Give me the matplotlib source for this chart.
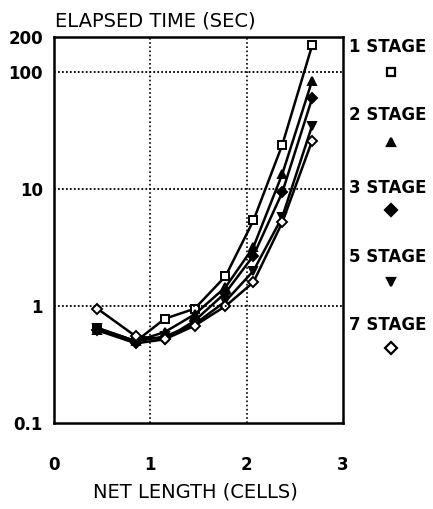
import numpy as np
import matplotlib.pyplot as plt

# net length (cells) for each measured point
net_length = [0.45, 0.85, 1.15, 1.46, 1.78, 2.07, 2.37, 2.68]

# elapsed time (sec) per pipeline depth
stage1 = [0.65, 0.50, 0.78, 0.95, 1.8, 5.4, 24.0, 170.0]
stage2 = [0.63, 0.50, 0.60, 0.85, 1.45, 3.2, 13.5, 85.0]
stage3 = [0.62, 0.48, 0.52, 0.75, 1.3, 2.7, 9.4, 60.0]
stage5 = [0.65, 0.50, 0.55, 0.70, 1.1, 2.0, 5.8, 35.0]
stage7 = [0.95, 0.55, 0.52, 0.68, 1.0, 1.6, 5.2, 26.0]

labels = ['1 STAGE', '2 STAGE', '3 STAGE', '5 STAGE', '7 STAGE']
series = [stage1, stage2, stage3, stage5, stage7]
markers = [('s', 'white'), ('^', 'black'), ('D', 'black'), ('v', 'black'), ('D', 'white')]
msizes = [5.5, 6, 5, 6, 5]

fig = plt.figure(figsize=(4.33, 5.09), dpi=100)
ax = fig.add_axes([0.125, 0.169, 0.667, 0.758])

for ys, (m, fc), ms in zip(series, markers, msizes):
    ax.plot(net_length, ys, color='black', lw=1.8, marker=m, ms=ms,
            mfc=fc, mec='black', mew=1.4)

ax.set_yscale('log')
ax.set_xlim(0, 3)
ax.set_ylim(0.1, 200)
ax.set_xticks([0, 1, 2, 3])
ax.set_xticklabels(['0', '1', '2', '3'])
ax.set_yticks([0.1, 1, 10, 100, 200])
ax.set_yticklabels(['0.1', '1', '10', '100', '200'])
ax.yaxis.set_minor_locator(plt.NullLocator())
ax.tick_params(length=0, labelsize=12)
ax.tick_params(axis='x', pad=24)
ax.tick_params(axis='y', pad=8)
for lab in ax.get_xticklabels() + ax.get_yticklabels():
    lab.set_fontweight('bold')

for v in [1, 10, 100]:
    ax.axhline(v, color='black', lw=1.3, ls=(0, (1, 1.2)))
for v in [1, 2]:
    ax.axvline(v, color='black', lw=1.2, ls=(0, (1, 1.5)))

for s in ax.spines.values():
    s.set_linewidth(1.8)

fig.text(55 / 433, 1 - 21 / 509, 'ELAPSED TIME (SEC)', fontsize=14, ha='left', va='center')
fig.text(195 / 433, 1 - 492 / 509, 'NET LENGTH (CELLS)', fontsize=14, ha='center', va='center')

# series key down the right margin
label_y = [47, 115, 188, 257, 325]
mark_y = [72, 142, 210, 282, 348]
for lab, ly, my, (m, fc) in zip(labels, label_y, mark_y, markers):
    fig.text(388 / 433, 1 - ly / 509, lab, fontsize=12, fontweight='bold', ha='center', va='center')
    fig.add_artist(plt.Line2D([391 / 433], [1 - my / 509], marker=m, ms=6, mfc=fc,
                              mec='black', mew=1.6, ls='none', transform=fig.transFigure))

fig.savefig('out.png', dpi=100)
